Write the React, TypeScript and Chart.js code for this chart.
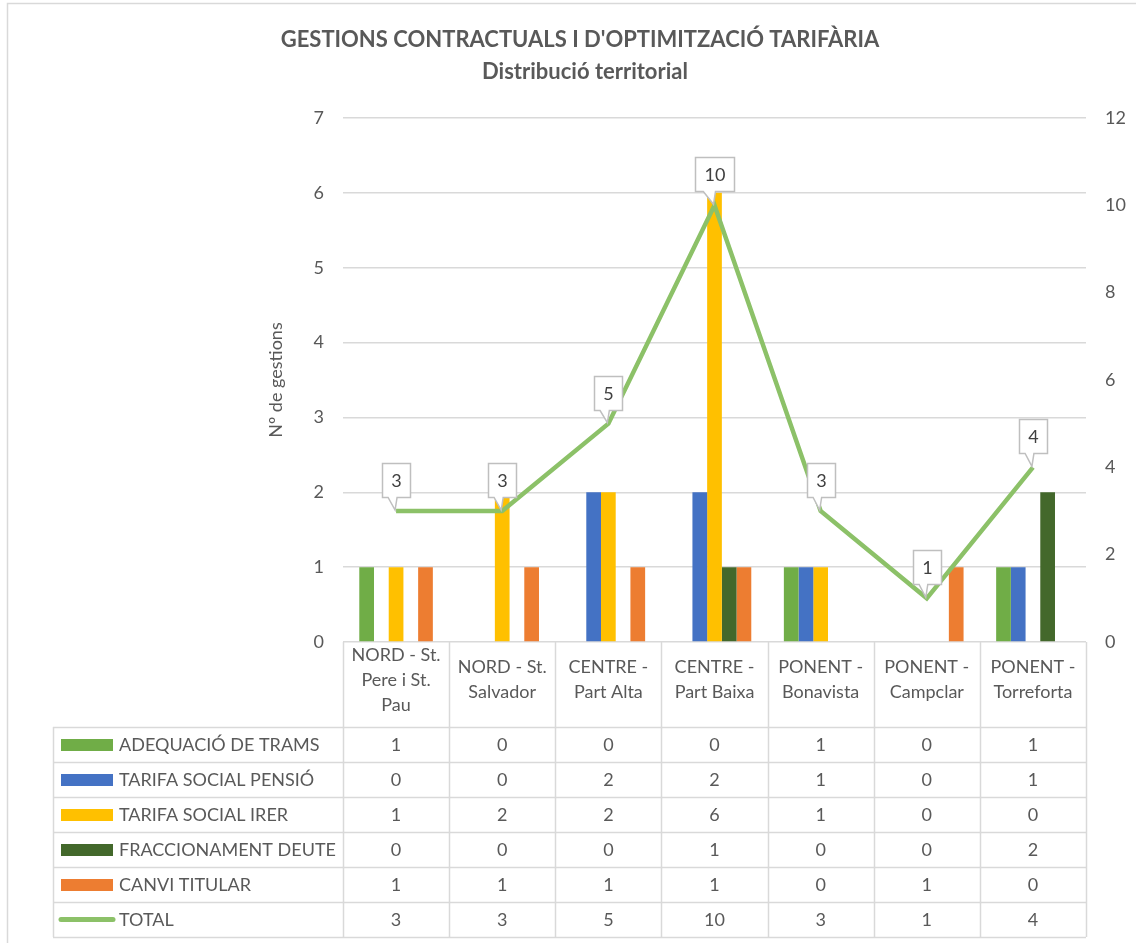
import React, { useEffect, useRef } from 'react';
import { Chart, registerables } from 'chart.js';

Chart.register(...registerables);

const FONT = 'Lato, "Open Sans", "Liberation Sans", sans-serif';
const TEXT = '#595959';
const GRID = '#D9D9D9';

const chartTitle = 'GESTIONS CONTRACTUALS I D\'OPTIMITZACIÓ TARIFÀRIA';
const chartSubtitle = 'Distribució territorial';
const yTitle = 'Nº de gestions';

const categories: string[][] = [
  ['NORD - St.', 'Pere i St.', 'Pau'],
  ['NORD - St.', 'Salvador'],
  ['CENTRE -', 'Part Alta'],
  ['CENTRE -', 'Part Baixa'],
  ['PONENT -', 'Bonavista'],
  ['PONENT -', 'Campclar'],
  ['PONENT -', 'Torreforta'],
];

const seriesNames = [
  'ADEQUACIÓ DE TRAMS',
  'TARIFA SOCIAL PENSIÓ',
  'TARIFA SOCIAL IRER',
  'FRACCIONAMENT DEUTE',
  'CANVI TITULAR',
];
const totalName = 'TOTAL';

const adequacioTrams = [1, 0, 0, 0, 1, 0, 1];
const tarifaSocialPensio = [0, 0, 2, 2, 1, 0, 1];
const tarifaSocialIrer = [1, 2, 2, 6, 1, 0, 0];
const fraccionamentDeute = [0, 0, 0, 1, 0, 0, 2];
const canviTitular = [1, 1, 1, 1, 0, 1, 0];
const total = [3, 3, 5, 10, 3, 1, 4];

const leftAxisMax = 7;
const leftAxisStep = 1;
const rightAxisMax = 12;
const rightAxisStep = 2;

const barSeries = [adequacioTrams, tarifaSocialPensio, tarifaSocialIrer, fraccionamentDeute, canviTitular];
const barColors = ['#70AD47', '#4472C4', '#FFC000', '#43682B', '#ED7D31'];
const lineColor = '#8CC168';

const W = 1136;
const H = 943;
const PLOT_LEFT = 343;
const PLOT_RIGHT = 1086;
const PLOT_TOP = 118;
const PLOT_BOTTOM = 642;
const LABEL_H = 85;
const ROW_H = 35;
const TABLE_LEFT = 53;

const tablePlugin = {
  id: 'tablePlugin',
  beforeDraw(chart: any) {
    const ctx = chart.ctx;
    ctx.save();
    ctx.fillStyle = '#FFFFFF';
    ctx.fillRect(0, 0, W, H);
    ctx.strokeStyle = GRID;
    ctx.lineWidth = 1.5;
    ctx.strokeRect(7.5, 3.5, W + 20, H + 20);
    ctx.fillStyle = TEXT;
    ctx.textAlign = 'center';
    ctx.textBaseline = 'middle';
    ctx.font = `bold 22px ${FONT}`;
    ctx.fillText(chartTitle, 580, 40);
    ctx.fillText(chartSubtitle, 585, 72);
    ctx.restore();
  },
  afterDraw(chart: any) {
    const ctx = chart.ctx;
    const area = chart.chartArea;
    const xs = chart.scales.x;
    const n = categories.length;
    const step = (area.right - area.left) / n;
    const labelBottom = area.bottom + LABEL_H;
    const nRows = seriesNames.length + 1;
    const tableBottom = labelBottom + nRows * ROW_H;
    ctx.save();
    ctx.strokeStyle = GRID;
    ctx.lineWidth = 1.5;
    const c = (v: number) => Math.round(v) + 0.5;
    ctx.beginPath();
    for (let r = 0; r <= nRows; r++) {
      const y = c(labelBottom + r * ROW_H);
      ctx.moveTo(TABLE_LEFT, y);
      ctx.lineTo(area.right, y);
    }
    ctx.moveTo(c(TABLE_LEFT), labelBottom);
    ctx.lineTo(c(TABLE_LEFT), tableBottom);
    for (let i = 0; i <= n; i++) {
      const x = c(area.left + i * step);
      ctx.moveTo(x, area.bottom);
      ctx.lineTo(x, tableBottom);
    }
    ctx.stroke();

    ctx.font = `18px ${FONT}`;
    ctx.textBaseline = 'middle';
    const allRows = [...barSeries, total];
    allRows.forEach((row, r) => {
      const cy = labelBottom + r * ROW_H + ROW_H / 2;
      if (r < barSeries.length) {
        ctx.fillStyle = barColors[r];
        ctx.fillRect(61, Math.round(cy - 6), 52, 12);
      } else {
        ctx.strokeStyle = lineColor;
        ctx.lineWidth = 5;
        ctx.lineCap = 'round';
        ctx.beginPath();
        ctx.moveTo(61, cy);
        ctx.lineTo(113, cy);
        ctx.stroke();
      }
      ctx.fillStyle = TEXT;
      ctx.textAlign = 'left';
      ctx.fillText(r < seriesNames.length ? seriesNames[r] : totalName, 119, cy + 1);
      ctx.textAlign = 'center';
      row.forEach((v, i) => {
        ctx.fillText(String(v), xs.getPixelForValue(i), cy + 1);
      });
    });
    ctx.restore();
  },
  afterDatasetsDraw(chart: any) {
    const ctx = chart.ctx;
    const idx = chart.data.datasets.length - 1;
    const meta = chart.getDatasetMeta(idx);
    ctx.save();
    ctx.font = `18px ${FONT}`;
    ctx.textAlign = 'center';
    ctx.textBaseline = 'middle';
    meta.data.forEach((pt: any, i: number) => {
      const x = pt.x;
      const y = pt.y;
      const txt = String(total[i]);
      const w = Math.round(ctx.measureText(txt).width + 18);
      const h = 34;
      const bx = Math.round(x - w / 2) + 0.5;
      const by = Math.round(y - 14 - h) + 0.5;
      ctx.beginPath();
      ctx.moveTo(bx, by);
      ctx.lineTo(bx + w, by);
      ctx.lineTo(bx + w, by + h);
      ctx.lineTo(x + 1, by + h);
      ctx.lineTo(x - 1, y - 1);
      ctx.lineTo(bx + w * 0.2, by + h);
      ctx.lineTo(bx, by + h);
      ctx.closePath();
      ctx.fillStyle = '#FFFFFF';
      ctx.fill();
      ctx.strokeStyle = '#BFBFBF';
      ctx.lineWidth = 1.5;
      ctx.stroke();
      ctx.fillStyle = '#404040';
      ctx.fillText(txt, bx + w / 2, by + h / 2 + 1);
    });
    ctx.restore();
  },
};

export default function App() {
  const ref = useRef<HTMLCanvasElement | null>(null);
  useEffect(() => {
    document.body.style.margin = '0';
    const canvas = ref.current;
    if (!canvas) return;
    const datasets: any[] = barSeries.map((data, i) => ({
      type: 'bar',
      label: seriesNames[i],
      data,
      backgroundColor: barColors[i],
      borderWidth: 0,
      yAxisID: 'y',
      order: 1,
      categoryPercentage: 0.693,
      barPercentage: 1.0,
    }));
    datasets.push({
      type: 'line',
      label: totalName,
      data: total,
      borderColor: lineColor,
      backgroundColor: lineColor,
      borderWidth: 4.5,
      pointRadius: 0,
      pointHoverRadius: 0,
      tension: 0,
      yAxisID: 'y1',
      order: 0,
    });
    const chart = new Chart(canvas, {
      type: 'bar',
      data: { labels: categories as any, datasets },
      options: {
        responsive: false,
        animation: false,
        devicePixelRatio: 1,
        layout: { padding: { left: 0, right: 0, top: PLOT_TOP, bottom: H - PLOT_BOTTOM - LABEL_H } },
        plugins: {
          legend: { display: false },
          tooltip: { enabled: false },
          title: { display: false },
        },
        scales: {
          x: {
            grid: { display: false },
            border: { display: false },
            ticks: {
              color: TEXT,
              font: { family: FONT, size: 18, lineHeight: '25px' as any },
              padding: 5,
              maxRotation: 0,
              minRotation: 0,
              autoSkip: false,
              crossAlign: 'center',
            },
            afterFit: (s: any) => { s.height = LABEL_H; },
          },
          y: {
            position: 'left',
            min: 0,
            max: leftAxisMax,
            ticks: { stepSize: leftAxisStep, color: TEXT, font: { family: FONT, size: 18 }, padding: 19 },
            grid: { color: GRID, lineWidth: 1.5, drawTicks: false },
            border: { display: false },
            title: {
              display: true,
              text: yTitle,
              color: TEXT,
              font: { family: FONT, size: 18 },
              padding: { top: 265, bottom: 0 },
            },
            afterFit: (s: any) => { s.width = PLOT_LEFT; },
          },
          y1: {
            position: 'right',
            min: 0,
            max: rightAxisMax,
            ticks: { stepSize: rightAxisStep, color: TEXT, font: { family: FONT, size: 18 }, padding: 19 },
            grid: { display: false, drawTicks: false },
            border: { display: false },
            afterFit: (s: any) => { s.width = W - PLOT_RIGHT; },
          },
        },
      },
      plugins: [tablePlugin],
    });
    return () => chart.destroy();
  }, []);
  return <canvas ref={ref} width={W} height={H} style={{ display: 'block' }} />;
}
